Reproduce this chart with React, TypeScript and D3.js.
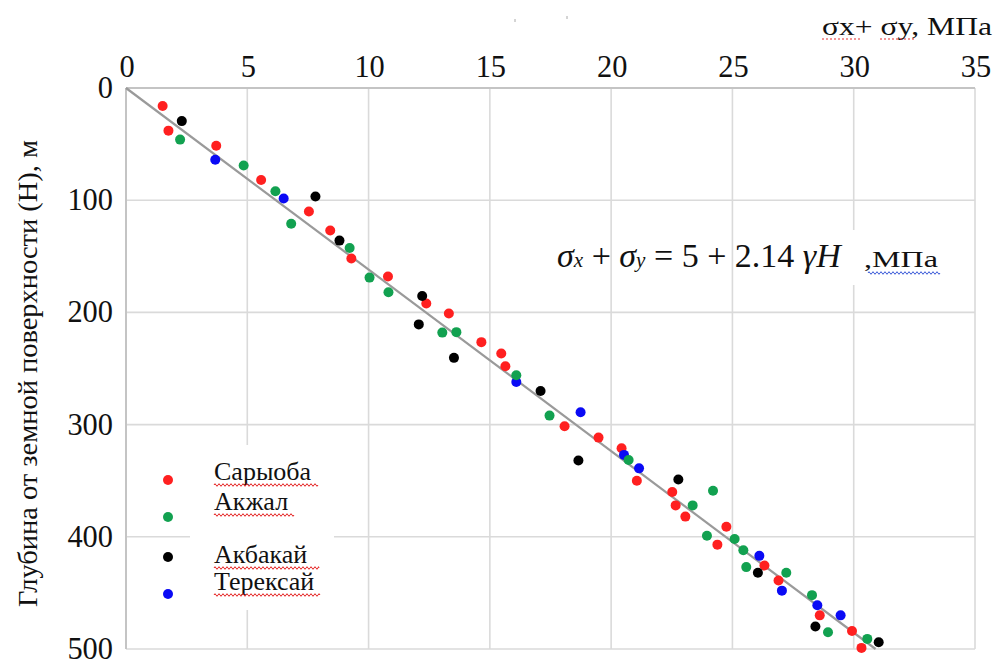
import React from "react";
import * as d3 from "d3";

const xTicks = [0, 5, 10, 15, 20, 25, 30, 35];
const yTicks = [0, 100, 200, 300, 400, 500];

const seriesNames = ["Сарыоба", "Акжал", "Акбакай", "Терексай"];
const seriesColors = ["#ff2020", "#12a150", "#000000", "#0a0af5"];

const sarySigma = [1.51, 1.75, 3.72, 5.57, 7.54, 8.42, 9.29, 10.8, 12.38, 13.31, 14.65, 15.47, 15.64, 18.08, 19.48, 20.43, 21.06, 22.52, 22.66, 23.06, 24.75, 24.38, 26.32, 26.9, 28.6, 29.93, 30.32];
const saryDepth = [16, 38, 51.5, 82, 110, 127, 152, 168, 192, 201, 226.5, 236.6, 248, 301.5, 311.6, 321, 350, 360, 372, 382, 391, 407, 425.6, 439, 470, 484, 499];

const akzhSigma = [2.23, 4.85, 6.16, 6.81, 9.22, 10.04, 10.82, 13.04, 13.62, 16.09, 17.46, 20.72, 24.2, 23.36, 23.95, 25.09, 25.45, 25.57, 27.22, 28.28, 28.94, 30.56];
const akzhDepth = [46, 69, 92, 121, 142.6, 169, 182, 218, 217.6, 256, 292, 331.5, 359, 372, 399, 402, 412, 427, 432, 452, 485, 491];

const akbSigma = [2.3, 7.81, 8.8, 12.21, 12.07, 13.52, 17.09, 18.65, 22.77, 26.05, 28.42, 31.03];
const akbDepth = [29.5, 96.7, 136, 185.4, 210.7, 240.5, 270, 332, 349, 432, 480, 494];

const terSigma = [3.68, 6.5, 16.09, 18.74, 20.53, 21.15, 26.11, 27.04, 28.5, 29.46];
const terDepth = [64, 98.5, 262, 289, 327, 339, 417, 448, 461, 470];

const trendSigma = [0, 30.9];
const trendDepth = [0, 500];

const W = 996;
const H = 664;
const SERIF = "Liberation Serif";
const BASE = 24;

function wavy(x0: number, x1: number, y: number, amp = 1.3, period = 4) {
  let d = `M${x0},${y}`;
  let up = true;
  for (let x = x0; x < x1; x += period / 2) {
    const nx = Math.min(x + period / 2, x1);
    d += ` Q${(x + nx) / 2},${y + (up ? -amp * 2 : amp * 2)} ${nx},${y}`;
    up = !up;
  }
  return d;
}

export default function App() {
  const x = d3.scaleLinear().domain([0, 35]).range([126, 975]);
  const y = d3.scaleLinear().domain([0, 500]).range([88, 649]);

  const series = [
    { name: seriesNames[0], color: seriesColors[0], xs: sarySigma, ys: saryDepth },
    { name: seriesNames[1], color: seriesColors[1], xs: akzhSigma, ys: akzhDepth },
    { name: seriesNames[2], color: seriesColors[2], xs: akbSigma, ys: akbDepth },
    { name: seriesNames[3], color: seriesColors[3], xs: terSigma, ys: terDepth },
  ];
  const drawOrder = [0, 3, 1, 2];

  const line = d3
    .line<number>()
    .x((_, i) => x(trendSigma[i]))
    .y((_, i) => y(trendDepth[i]));

  const legendY = [480, 517, 557, 594];
  const legendTextY = [480, 510, 563, 590];
  const tf = { fontFamily: SERIF };
  const tickK = 32 / BASE;

  return (
    <svg
      width={W}
      height={H}
      style={{ position: "absolute", left: 0, top: 0, background: "#fff" }}
    >
      <rect x={0} y={0} width={W} height={H} fill="#fff" />
      {xTicks.slice(1).map((t) => (
        <line key={"gx" + t} x1={x(t)} x2={x(t)} y1={y(0)} y2={y(500)} stroke="#dadada" strokeWidth={1.6} />
      ))}
      {yTicks.slice(1).map((t) => (
        <line key={"gy" + t} x1={x(0)} x2={x(35)} y1={y(t)} y2={y(t)} stroke="#dadada" strokeWidth={1.6} />
      ))}
      <line x1={x(0)} x2={x(35)} y1={y(0)} y2={y(0)} stroke="#c4c4c4" strokeWidth={2} />
      <line x1={x(0)} x2={x(0)} y1={y(0)} y2={y(500)} stroke="#c4c4c4" strokeWidth={2} />

      <rect x={190} y={445} width={144} height={165} fill="#fff" />
      <rect x={849} y={230} width={96} height={55} fill="#fff" />

      <path d={line(trendSigma) || ""} fill="none" stroke="#9a9a9a" strokeWidth={2.2} />

      {drawOrder.map((si) => {
        const s = series[si];
        return (
          <g key={s.name}>
            {s.xs.map((v, i) => (
              <circle key={i} cx={x(v)} cy={y(s.ys[i])} r={5} fill={s.color} />
            ))}
          </g>
        );
      })}

      {xTicks.map((t) => (
        <text
          key={"tx" + t}
          style={tf}
          transform={`translate(${x(t) + 1},${77}) scale(${tickK * 0.95},${tickK})`}
          textAnchor="middle"
          fontSize={BASE}
          fill="#111"
        >
          {t}
        </text>
      ))}
      {yTicks.map((t) => (
        <text
          key={"ty" + t}
          style={tf}
          transform={`translate(${113},${y(t) + 10}) scale(${tickK * 0.95},${tickK})`}
          textAnchor="end"
          fontSize={BASE}
          fill="#111"
        >
          {t}
        </text>
      ))}

      <text x={822} y={35} fontSize={26} fill="#111" style={tf} textLength={170} lengthAdjust="spacingAndGlyphs">
        σx+ σy, МПа
      </text>
      <path d={`M822,39 L860,39 M880,39 L916,39`} stroke="#e53030" strokeWidth={1.2} strokeDasharray="2,2" />

      <text
        style={tf}
        transform={`translate(37,${373.5}) rotate(-90) scale(${28 / BASE})`}
        textAnchor="middle"
        fontSize={BASE}
        fill="#111"
        textLength={467 / (28 / BASE)}
        lengthAdjust="spacingAndGlyphs"
      >
        Глубина от земной поверхности (Н), м
      </text>

      <text transform={`translate(557,267) scale(${34 / BASE})`} fontSize={BASE} fill="#111" style={tf}>
        <tspan fontStyle="italic">σ</tspan>
        <tspan fontStyle="italic" fontSize={BASE * 0.62}>x</tspan>
        <tspan> + </tspan>
        <tspan fontStyle="italic">σ</tspan>
        <tspan fontStyle="italic" fontSize={BASE * 0.62}>y</tspan>
        <tspan> = 5 + 2.14 </tspan>
        <tspan fontStyle="italic">γH</tspan>
      </text>
      <text x={864} y={267} fontSize={24} fill="#111" style={tf} textLength={74} lengthAdjust="spacingAndGlyphs">
        ,МПа
      </text>
      <path d={wavy(868, 940, 273)} stroke="#3a5ad8" strokeWidth={1} fill="none" />

      {series.map((s, i) => (
        <g key={"lg" + i}>
          <circle cx={168} cy={legendY[i]} r={5} fill={s.color} />
          <text x={214} y={legendTextY[i]} fontSize={26} fill="#111" style={tf}>
            {s.name}
          </text>
        </g>
      ))}
      {series.map((s, i) => {
        const widths = [104, 80, 105, 106];
        return (
          <path key={"wv" + i} d={wavy(214, 214 + widths[i], legendTextY[i] + 5)} stroke="#e52020" strokeWidth={1} fill="none" />
        );
      })}

      <line x1={515} x2={515} y1={19} y2={22} stroke="#aaa" strokeWidth={1} />
      <line x1={567} x2={567} y1={16} y2={19} stroke="#aaa" strokeWidth={1} />
    </svg>
  );
}
